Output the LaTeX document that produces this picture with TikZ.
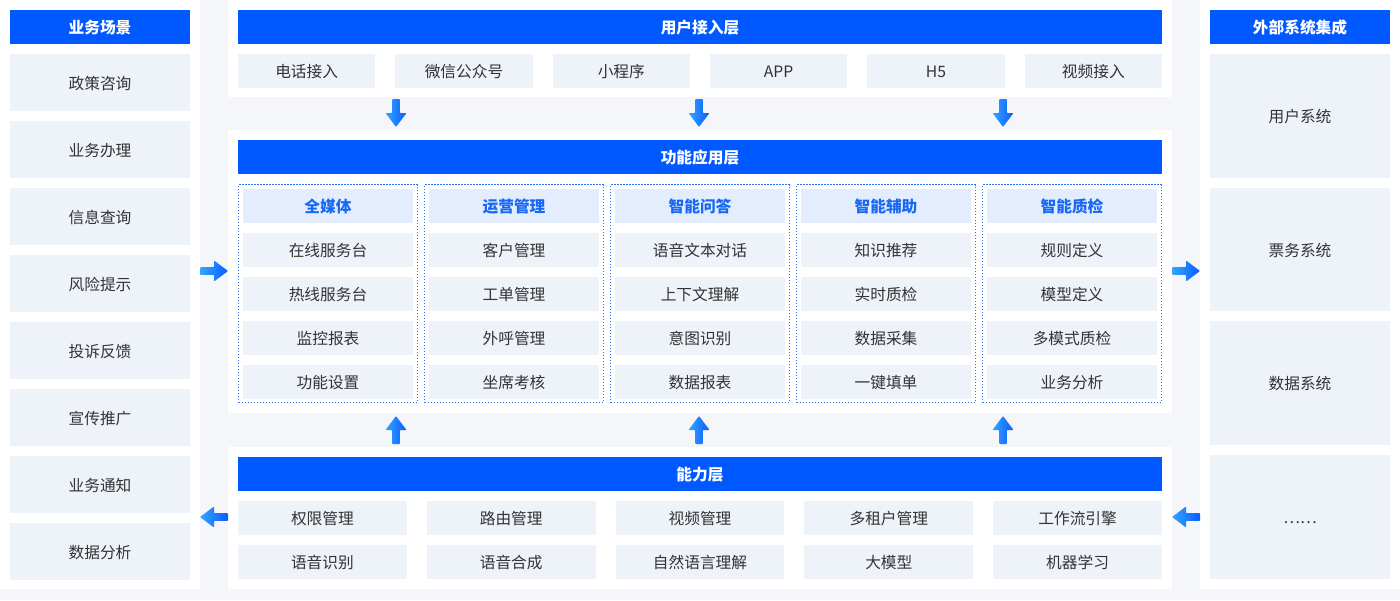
\documentclass[tikz,border=0pt]{standalone}
\usepackage{fontspec}
\setmainfont{Noto Sans CJK SC}
\definecolor{bgGray}{HTML}{F4F6FA}
\definecolor{hdrBlue}{HTML}{0059FF}
\definecolor{cellBg}{HTML}{EEF2F9}
\definecolor{subBg}{HTML}{E4EDFD}
\definecolor{subTxt}{HTML}{1668F5}
\definecolor{txt}{HTML}{333333}
\definecolor{dotBlue}{HTML}{2F74F6}
\definecolor{arrL}{HTML}{33A6FF}
\definecolor{arrD}{HTML}{0A5BFF}
\tikzset{
  box/.style={anchor=north west, inner sep=0pt, outer sep=0pt, text=txt,
    text height=13pt, text depth=0pt,
    font=\fontsize{15.7}{18}\selectfont},
  hdr/.style={box, fill=hdrBlue, text=white, font=\bfseries\fontsize{15.7}{18}\selectfont},
  cell/.style={box, fill=cellBg},
  subhdr/.style={box, fill=subBg, text=subTxt, font=\bfseries\fontsize{15.7}{18}\selectfont},
  panel/.style={box, fill=white},
  dotbox/.style={box, draw=dotBlue, line width=1.3pt, dash pattern=on 1.4pt off 1.6pt},
  arrowshade/.style={left color=arrL, right color=arrD, rounded corners=0.8pt},
}
\newcommand\vArrow[3]{% x, y, angle  (pointing down at angle 0)
  \shade[arrowshade, shift={(#1,#2)}, rotate=#3]
    (-3.8,-14) -- (3.8,-14) -- (3.8,0) -- (10.5,0) -- (0,14) -- (-10.5,0) -- (-3.8,0) -- cycle;}
\begin{document}
\begin{tikzpicture}[x=1pt,y=-1pt]
\fill[bgGray] (0,0) rectangle (1400,600);
\useasboundingbox (0,0) rectangle (1400,600);
% panels
\node[panel, minimum width=200pt, minimum height=589pt] (lp) at (0,0) {};
\node[panel, minimum width=200pt, minimum height=589pt] (rp) at (1200,0) {};
\node[panel, minimum width=944pt, minimum height=97pt] (tp) at (228,0) {};
\node[panel, minimum width=944pt, minimum height=283pt] (mp) at (228,130) {};
\node[panel, minimum width=944pt, minimum height=142pt] (bp) at (228,447) {};
% left column
\node[hdr, minimum width=180pt, minimum height=34pt] (lh) at (10,10) {业务场景};
\foreach \t [count=\i from 0] in {政策咨询,业务办理,信息查询,风险提示,投诉反馈,宣传推广,业务通知,数据分析}
  \node[cell, minimum width=180pt, minimum height=57pt] (l\i) at (10,54+67*\i) {\t};
% right column
\node[hdr, minimum width=180pt, minimum height=34pt] (rh) at (1210,10) {外部系统集成};
\foreach \t [count=\i from 0] in {用户系统,票务系统,数据系统,……}
  \node[cell, minimum width=180pt, minimum height=123.7pt] (r\i) at (1210,54+133.67*\i) {\t};
% top layer
\node[hdr, minimum width=924pt, minimum height=34pt] (th) at (238,10) {用户接入层};
\foreach \t [count=\i from 0] in {电话接入,微信公众号,小程序,APP,H5,视频接入}
  \node[cell, minimum width=137.33pt, minimum height=34pt] (t\i) at (238+157.33*\i,54) {\t};
% middle layer
\node[hdr, minimum width=924pt, minimum height=34pt] (mh) at (238,140) {功能应用层};
\foreach \h/\a/\b/\c/\d [count=\i from 0] in {
  全媒体/在线服务台/热线服务台/监控报表/功能设置,
  运营管理/客户管理/工单管理/外呼管理/坐席考核,
  智能问答/语音文本对话/上下文理解/意图识别/数据报表,
  智能辅助/知识推荐/实时质检/数据采集/一键填单,
  智能质检/规则定义/模型定义/多模式质检/业务分析}{
  \node[dotbox, minimum width=178.7pt, minimum height=217.7pt] (d\i) at (238.65+186*\i,184.65) {};
  \node[subhdr, minimum width=170pt, minimum height=34pt] (s\i) at (243+186*\i,189) {\h};
  \node[cell, minimum width=170pt, minimum height=34pt] (m\i a) at (243+186*\i,233) {\a};
  \node[cell, minimum width=170pt, minimum height=34pt] (m\i b) at (243+186*\i,277) {\b};
  \node[cell, minimum width=170pt, minimum height=34pt] (m\i c) at (243+186*\i,321) {\c};
  \node[cell, minimum width=170pt, minimum height=34pt] (m\i d) at (243+186*\i,365) {\d};
}
% bottom layer
\node[hdr, minimum width=924pt, minimum height=34pt] (bh) at (238,457) {能力层};
\foreach \t [count=\i from 0] in {权限管理,路由管理,视频管理,多租户管理,工作流引擎}
  \node[cell, minimum width=168.8pt, minimum height=34pt] (b\i) at (238+188.8*\i,501) {\t};
\foreach \t [count=\i from 0] in {语音识别,语音合成,自然语言理解,大模型,机器学习}
  \node[cell, minimum width=168.8pt, minimum height=34pt] (c\i) at (238+188.8*\i,545) {\t};
% arrows
\foreach \x in {396,699,1003} {
  \vArrow{\x}{113}{0}
  \vArrow{\x}{430}{180}
}
\vArrow{214}{271}{90}
\vArrow{1186}{271}{90}
\vArrow{214}{517}{-90}
\vArrow{1186}{517}{-90}
\end{tikzpicture}
\end{document}
